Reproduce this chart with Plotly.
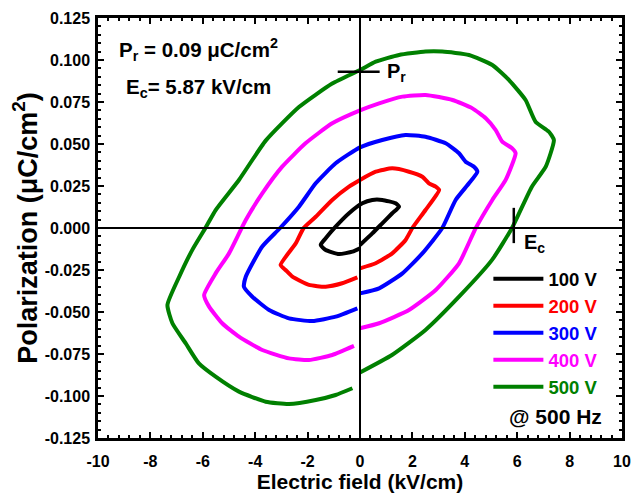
import plotly.graph_objects as go

# ---- data ----
series_names = ["100 V", "200 V", "300 V", "400 V", "500 V"]
series_colors = ["#000000", "#FF0000", "#0000FF", "#FF00FF", "#008000"]

x_100 = [0, 0.47, 0.85, 1.23, 1.49, 1.36, 0.85, 0.47, 0.09, -0.42, -0.93, -1.31, -1.5, -1.31, -0.8, -0.29, 0]
y_100 = [-0.0101, -0.0032, 0.0028, 0.0088, 0.0127, 0.0147, 0.0167, 0.0167, 0.0147, 0.0088, 0.0008, -0.0061,
         -0.0101, -0.0131, -0.0155, -0.0141, -0.0121]

x_200 = [0, 0.6, 1.23, 1.74, 2.0, 2.5, 3.02, 2.89, 2.63, 2.38, 1.87, 1.23, 0.6, 0, -0.42, -1.06, -1.69, -2.15,
         -2.45, -3.03, -2.84, -2.58, -1.95, -1.31, -0.68, -0.1]
y_200 = [-0.024, -0.021, -0.0151, -0.0071, 0, 0.0107, 0.0226, 0.0246, 0.0266, 0.0305, 0.0335, 0.0355, 0.0335,
         0.0286, 0.0246, 0.0167, 0.0067, 0, -0.0091, -0.022, -0.025, -0.029, -0.0339, -0.0349, -0.0329, -0.0294]

x_300 = [0, 0.73, 1.62, 2.38, 3.14, 3.65, 4.16, 4.48, 4.35, 4.03, 3.78, 3.27, 2.5, 1.74, 0.85, 0, -0.93, -1.69,
         -2.33, -3.05, -3.73, -4.36, -4.43, -4.11, -3.47, -2.71, -1.82, -0.93, -0.1]
y_300 = [-0.0389, -0.0359, -0.027, -0.0151, 0, 0.0167, 0.0266, 0.0335, 0.0365, 0.0395, 0.0445, 0.0504, 0.0543,
         0.0554, 0.0524, 0.048, 0.0385, 0.0266, 0.0127, 0, -0.011, -0.029, -0.035, -0.0409, -0.0488, -0.0538,
         -0.0554, -0.0528, -0.0478]

x_400 = [0, 0.73, 1.87, 2.89, 3.78, 4.42, 5.05, 5.56, 5.94, 5.81, 5.43, 5.18, 4.8, 4.29, 3.53, 2.5, 1.62, 0.73,
         0, -1.06, -2.08, -2.97, -3.73, -4.36, -5.0, -5.51, -5.95, -5.76, -5.26, -4.62, -3.73, -2.71, -1.95,
         -1.06, -0.23]
y_400 = [-0.0597, -0.0567, -0.0488, -0.0369, -0.021, 0, 0.0167, 0.0286, 0.0445, 0.0474, 0.0514, 0.0583, 0.0653,
         0.0712, 0.0762, 0.0792, 0.0782, 0.0742, 0.070, 0.0623, 0.0504, 0.0365, 0.0206, 0.0048, -0.0151, -0.027,
         -0.0399, -0.0468, -0.0567, -0.0647, -0.0726, -0.0776, -0.0786, -0.0756, -0.0702]

x_500 = [0, 1.22, 2.5, 3.78, 5.04, 5.8, 6.56, 7.09, 7.4, 7.21, 6.7, 6.32, 5.69, 5.05, 4.16, 3.14, 2.5, 1.49, 0.6,
         0, -1.06, -2.33, -3.6, -4.62, -5.51, -5.9, -6.4, -6.9, -7.35, -7.16, -6.65, -6.15, -5.51, -4.62, -3.6,
         -2.71, -1.69, -0.93, -0.29]
y_500 = [-0.086, -0.0756, -0.0607, -0.0409, -0.019, 0, 0.0246, 0.0365, 0.0524, 0.0573, 0.0633, 0.0762, 0.088,
         0.097, 0.103, 0.105, 0.105, 0.103, 0.099, 0.094, 0.086, 0.072, 0.052, 0.0286, 0.0107, 0, -0.013, -0.029,
         -0.0458, -0.0567, -0.0687, -0.0806, -0.0885, -0.0974, -0.1034, -0.1048, -0.1024, -0.0994, -0.0954]

xs = [x_100, x_200, x_300, x_400, x_500]
ys = [y_100, y_200, y_300, y_400, y_500]

x_tick_vals = [-10, -8, -6, -4, -2, 0, 2, 4, 6, 8, 10]
x_tick_text = ["-10", "-8", "-6", "-4", "-2", "0", "2", "4", "6", "8", "10"]
y_tick_vals = [-0.125, -0.1, -0.075, -0.05, -0.025, 0, 0.025, 0.05, 0.075, 0.1, 0.125]
y_tick_text = ["-0.125", "-0.100", "-0.075", "-0.050", "-0.025", "0.000", "0.025", "0.050", "0.075",
               "0.100", "0.125"]

Pr_value = 0.093
Ec_value = 5.87

FONT = "Arial, Liberation Sans, sans-serif"

fig = go.Figure()
for name, color, x, y in zip(series_names, series_colors, xs, ys):
    fig.add_trace(go.Scatter(
        x=x, y=y, mode="lines", name="<span style='color:%s'><b>%s</b></span>" % (color, name),
        line=dict(color=color, width=4, shape="spline", smoothing=0.5),
    ))

# zero axes
fig.add_shape(type="line", x0=-10, x1=10, y0=0, y1=0, line=dict(color="black", width=2))
fig.add_shape(type="line", x0=0, x1=0, y0=-0.125, y1=0.125, line=dict(color="black", width=2))
# Pr and Ec markers
fig.add_shape(type="line", x0=-0.85, x1=0.75, y0=Pr_value, y1=Pr_value, line=dict(color="black", width=2.5))
fig.add_shape(type="line", x0=Ec_value, x1=Ec_value, y0=-0.009, y1=0.012, line=dict(color="black", width=2.5))

annots = [
    dict(x=0.036, y=0.924, xref="paper", yref="paper", xanchor="left", yanchor="middle",
         text="<b>P<sub>r</sub> = 0.09 μC/cm<sup>2</sup></b>", size=20.5),
    dict(x=0.05, y=0.833, xref="paper", yref="paper", xanchor="left", yanchor="middle",
         text="<b>E<sub>c</sub>= 5.87 kV/cm</b>", size=20.5),
    dict(x=0.95, y=Pr_value - 0.0005, xref="x", yref="y", xanchor="left", yanchor="middle",
         text="<b>P<sub>r</sub></b>", size=20),
    dict(x=Ec_value + 0.3, y=-0.009, xref="x", yref="y", xanchor="left", yanchor="middle",
         text="<b>E<sub>c</sub></b>", size=20),
    dict(x=0.966, y=0.052, xref="paper", yref="paper", xanchor="right", yanchor="middle",
         text="<b>@ 500 Hz</b>", size=21),
]
for a in annots:
    s = a.pop("size")
    a.update(showarrow=False, font=dict(family=FONT, size=s, color="black"))
    fig.add_annotation(**a)

axis_common = dict(
    showline=True, linecolor="black", linewidth=2.5, mirror="allticks",
    ticks="inside", ticklen=6, tickwidth=2, tickcolor="black",
    showgrid=False, zeroline=False, automargin=False,
    tickfont=dict(family=FONT, size=16, color="black", weight="bold"),
)

# The page body has an 8px default margin, so the figure is sized and placed to allow for it.
fig.update_layout(
    width=633, height=485,
    margin=dict(l=90, r=19, t=10, b=55),
    paper_bgcolor="white", plot_bgcolor="white",
    showlegend=True,
    legend=dict(x=0.745, y=0.4235, xanchor="left", yanchor="top", bgcolor="rgba(0,0,0,0)",
                font=dict(family=FONT, size=18.5, color="black"), tracegroupgap=0, itemwidth=50),
    xaxis=dict(range=[-10, 10], tickvals=x_tick_vals, ticktext=x_tick_text,
               ticklabelstandoff=7,
               minor=dict(dtick=0.4, ticks="inside", ticklen=3.5, tickwidth=1.5, tickcolor="black"),
               title=dict(text="<b>Electric field (kV/cm)</b>", font=dict(family=FONT, size=21, color="black"),
                          standoff=0),
               **axis_common),
    yaxis=dict(range=[-0.125, 0.125], tickvals=y_tick_vals, ticktext=y_tick_text,
               ticklabelstandoff=2,
               minor=dict(dtick=0.005, ticks="inside", ticklen=3.5, tickwidth=1.5, tickcolor="black"),
               title=dict(text="<b>Polarization (μC/cm<sup>2</sup>)</b>",
                          font=dict(family=FONT, size=27, color="black"), standoff=0),
               **axis_common),
)

fig.write_html("out.html")
